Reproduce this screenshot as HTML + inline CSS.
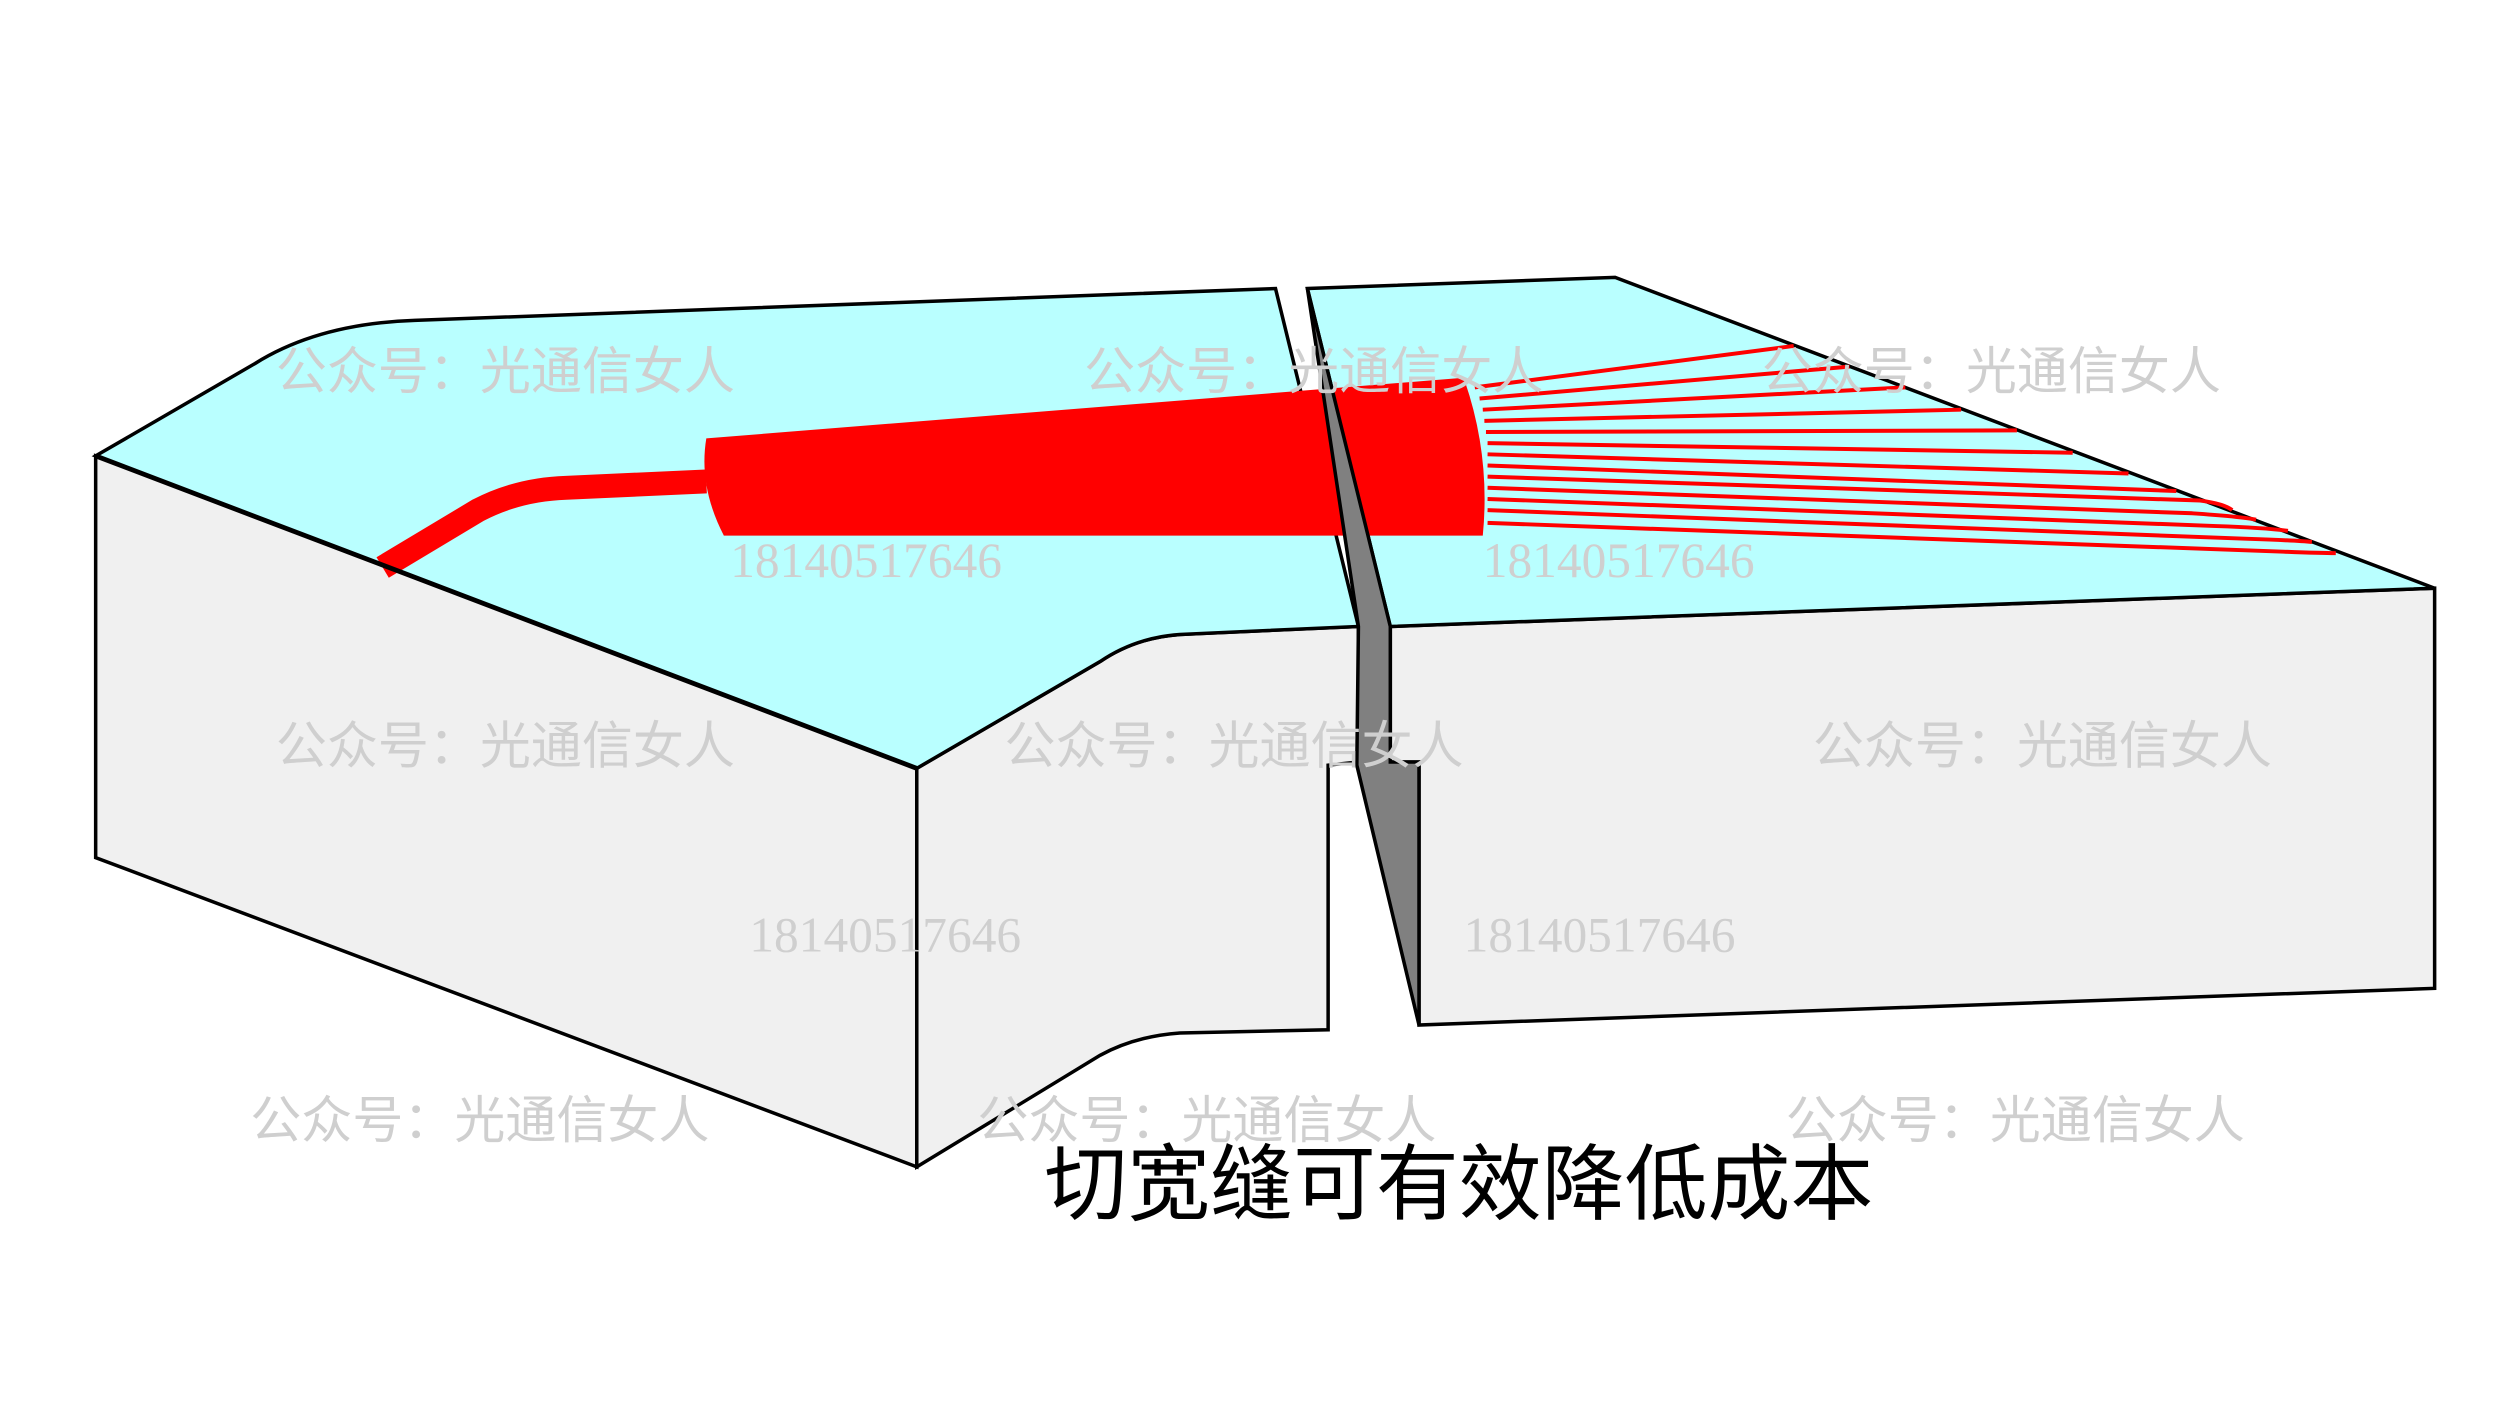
<!DOCTYPE html>
<html><head><meta charset="utf-8"><style>
html,body{margin:0;padding:0;background:#fff;}
svg{display:block;}
</style></head><body>
<svg width="2500" height="1406" viewBox="0 0 1568 882" preserveAspectRatio="none" xmlns="http://www.w3.org/2000/svg">
<rect width="1568" height="882" fill="#fff"/>
<polygon points="60,286 575,482 575,732 60,538" fill="#f0f0f0" stroke="#000" stroke-width="2.2"/>
<path d="M575,482 L690,415 Q712,400 740,398 L852,393 L852,478 L833,480 L833,646 L740,648 Q712,650 690,662 L575,732 Z" fill="#f0f0f0" stroke="#000" stroke-width="2.2"/>
<path d="M60,286 L160,228 Q200,203 260,201 L800,181 L852,393 L740,398 Q712,400 690,415 L575,482 Z" fill="#b9ffff" stroke="#000" stroke-width="2.2"/>
<polygon points="872,393 1527,369 1527,620 890,643 890,478 872,478" fill="#f0f0f0" stroke="#000" stroke-width="2.2"/>
<polygon points="820,181 1013,174 1527,369 872,393" fill="#b9ffff" stroke="#000" stroke-width="2.2"/>
<path d="M240,356 L300,320 Q325,307 355,306 L443,302" fill="none" stroke="#f00" stroke-width="15"/>
<path d="M443,275 L918,237 Q935,285 930,336 L454,336 Q438,305 443,275 Z" fill="#f00"/>
<g stroke="#f00" stroke-width="2.5" fill="none">
<path d="M925,243 L1125,217"/>
<path d="M928,250 L1160,230"/>
<path d="M930,257 L1195,243"/>
<path d="M931,264 L1230,257"/>
<path d="M932,271 L1265,270"/>
<path d="M933,278 L1300,284"/>
<path d="M933,285 L1335,297"/>
<path d="M933,292 L1365,308"/>
<path d="M933,299 L1380,314 Q1395,316 1400,320"/>
<path d="M933,306 L1375,322 Q1405,324 1415,326"/>
<path d="M933,313 L1390,330 Q1420,331 1435,333"/>
<path d="M933,320 L1410,338 Q1440,339 1450,340"/>
<path d="M933,328 L1430,346 Q1455,347 1465,347"/>
</g>
<line x1="60" y1="286" x2="575" y2="482" stroke="#000" stroke-width="3"/>
<polygon points="820,181 872,393 872,478 890,478 890,643 851,480 852,393" fill="#808080" stroke="#000" stroke-width="2.2"/>
<g fill="#cfcfcf" font-family="'Liberation Sans','Noto Sans CJK SC',sans-serif" font-size="32">
<text x="173" y="244">公众号：光通信女人</text>
<text x="680" y="244">公众号：光通信女人</text>
<text x="1105" y="244">公众号：光通信女人</text>
<text x="173" y="479">公众号：光通信女人</text>
<text x="630" y="479">公众号：光通信女人</text>
<text x="1137" y="479">公众号：光通信女人</text>
<text x="157" y="714">公众号：光通信女人</text>
<text x="613" y="714">公众号：光通信女人</text>
<text x="1120" y="714">公众号：光通信女人</text>
</g>
<g fill="#cfcfcf" font-family="'Liberation Serif',serif" font-size="31">
<text x="458" y="362">18140517646</text>
<text x="930" y="362">18140517646</text>
<text x="470" y="597">18140517646</text>
<text x="918" y="597">18140517646</text>
</g>
<text x="655" y="761" font-family="'Liberation Sans','Noto Sans CJK SC',sans-serif" font-size="52" fill="#000">切宽缝可有效降低成本</text>
</svg>
</body></html>
